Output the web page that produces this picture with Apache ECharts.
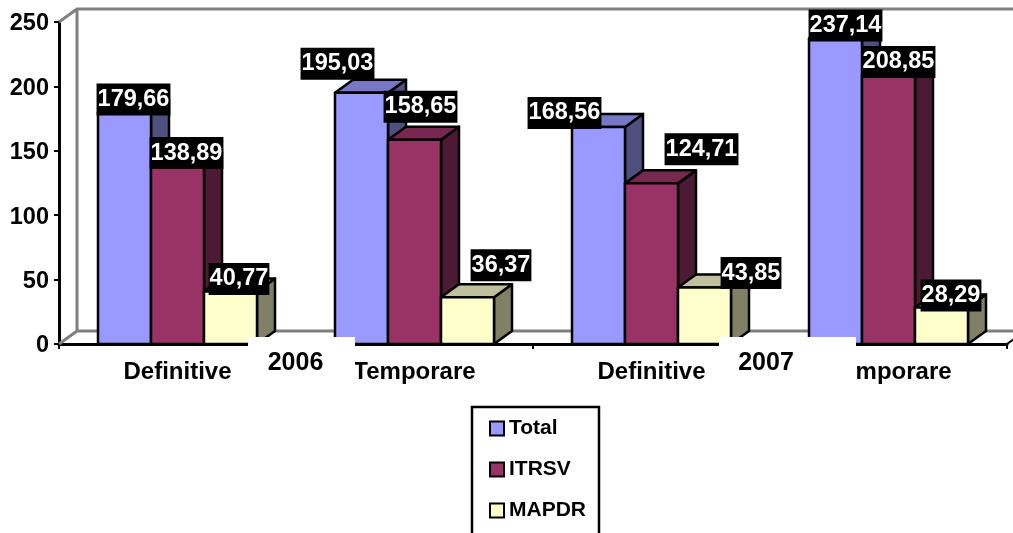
<!DOCTYPE html>
<html><head><meta charset="utf-8">
<style>html,body{margin:0;padding:0;background:#fff;overflow:hidden}#c{width:1013px;height:533px}</style>
<script src="https://cdn.jsdelivr.net/npm/echarts@6/dist/echarts.min.js"></script>
</head><body><div id="c"></div>
<script>
const categories = ['Definitive', 'Temporare', 'Definitive', 'Temporare'];
const years = ['2006', '2007'];
const total = [179.66, 195.03, 168.56, 237.14];
const itrsv = [138.89, 158.65, 124.71, 208.85];
const mapdr = [40.77, 36.37, 43.85, 28.29];
const yTicks = { min: 0, max: 250, interval: 50 };

const totalLabelShift = [[9, -13], [-24, -29], [-34, -14], [10, -13]];
const itrsvLabelShift = [[9, -12], [6, -33], [50, -34], [10, -13]];
const mapdrLabelShift = [[8.5, -12.5], [33.5, -32], [46.5, -14.5], [9.5, -12]];

const FONT = 'Liberation Sans, Arial, sans-serif';
const DX = 18, DY = -13, BAR_RATIO = 53 / 237, SW = 2.5;

function barSeries(name, values, shifts, idx, front, top, side) {
  return {
    name, type: 'custom', coordinateSystem: 'cartesian2d', clip: false,
    itemStyle: { color: front },
    data: values.map((v, i) => [i, v]),
    encode: { x: 0, y: 1 },
    renderItem(params, api) {
      const i = api.value(0), v = api.value(1);
      const base = api.coord([i, 0]), tip = api.coord([i, v]);
      const w = api.size([1, 0])[0] * BAR_RATIO;
      const cx = base[0] + (idx - 1) * w;
      const l = cx - w / 2, r = cx + w / 2, y0 = base[1], y1 = tip[1];
      const stroke = { stroke: '#000', lineWidth: SW, lineJoin: 'round' };
      const s = shifts[i];
      return { type: 'group', children: [
        { type: 'polygon', shape: { points: [[r, y1], [r + DX, y1 + DY], [r + DX, y0 + DY], [r, y0]] }, style: { fill: side, ...stroke } },
        { type: 'polygon', shape: { points: [[l, y1], [l + DX, y1 + DY], [r + DX, y1 + DY], [r, y1]] }, style: { fill: top, ...stroke } },
        { type: 'rect', shape: { x: l, y: y1, width: w, height: y0 - y1 }, style: { fill: front, ...stroke } },
        { type: 'text', z2: 100, style: {
            x: cx + s[0], y: y1 + s[1], text: v.toFixed(2).replace('.', ','),
            fill: '#fff', backgroundColor: '#000', padding: [4, 1, 4, 1],
            font: 'bold 23.5px ' + FONT, align: 'center', verticalAlign: 'middle' } }
      ] };
    }
  };
}

const wall = {
  type: 'custom', coordinateSystem: 'cartesian2d', silent: true, z: 1, clip: false,
  data: [[0, 0]], encode: { x: 0, y: 1 },
  renderItem(params, api) {
    const w = api.size([1, 0])[0];
    const b = api.coord([0, yTicks.min]), t = api.coord([0, yTicks.max]);
    const x0 = b[0] - w / 2, y0 = b[1], y1 = t[1], xEnd = x0 + w * categories.length;
    const gray = { stroke: '#808080', lineWidth: 3, fill: null };
    return { type: 'group', children: [
      { type: 'polyline', shape: { points: [[x0, y0], [x0 + DX, y0 + DY], [xEnd + DX, y0 + DY]] }, style: gray },
      { type: 'polyline', shape: { points: [[x0, y1], [x0 + DX, y1 + DY], [xEnd + DX, y1 + DY]] }, style: gray },
      { type: 'line', shape: { x1: x0 + DX, y1: y0 + DY, x2: x0 + DX, y2: y1 + DY }, style: gray },
      { type: 'line', shape: { x1: xEnd, y1: y0, x2: xEnd + DX, y2: y0 + DY }, style: { stroke: '#000', lineWidth: 2 } }
    ] };
  }
};

const chart = echarts.init(document.getElementById('c'), null, { renderer: 'canvas' });
chart.setOption({
  animation: false,
  backgroundColor: '#fff',
  grid: { left: 59, right: 6, top: 22, bottom: 189, containLabel: false },
  xAxis: {
    type: 'category',
    data: categories.map((c, i) => i === 3 ? { value: c, textStyle: { padding: [0, 0, 0, 4] } } : c),
    boundaryGap: true,
    axisLine: { lineStyle: { color: '#000', width: 3 } },
    axisTick: { show: true, length: 5, alignWithLabel: false, lineStyle: { color: '#000', width: 2 } },
    axisLabel: { interval: 0, margin: 16, color: '#000', fontFamily: FONT, fontWeight: 'bold', fontSize: 24 },
    splitLine: { show: false }
  },
  yAxis: {
    type: 'value', min: yTicks.min, max: yTicks.max, interval: yTicks.interval,
    axisLine: { show: true, lineStyle: { color: '#000', width: 3 } },
    axisTick: { show: true, length: 5, lineStyle: { color: '#000', width: 2 } },
    axisLabel: {
      margin: 10, color: '#000', formatter: '{a|{value}}',
      rich: { a: { color: '#000', fontFamily: FONT, fontWeight: 'bold', fontSize: 23.5, padding: [4, 0, 0, 0] } }
    },
    splitLine: { show: false }
  },
  legend: {
    orient: 'vertical', left: 472, top: 407, height: 400, data: ['Total', 'ITRSV', 'MAPDR'],
    backgroundColor: '#fff', borderColor: '#000', borderWidth: 2.5,
    padding: [11, 13, 60, 17], itemWidth: 14, itemHeight: 14, itemGap: 20, icon: 'rect',
    itemStyle: { borderColor: '#000', borderWidth: 2 },
    textStyle: { color: '#000', fontFamily: FONT, fontWeight: 'bold', fontSize: 21 }
  },
  series: [
    wall,
    barSeries('Total', total, totalLabelShift, 0, '#9999FF', '#7777C6', '#4F4F80'),
    barSeries('ITRSV', itrsv, itrsvLabelShift, 1, '#993366', '#772850', '#4D1A33'),
    barSeries('MAPDR', mapdr, mapdrLabelShift, 2, '#FFFFCC', '#C0C09F', '#808066')
  ],
  graphic: [
    { type: 'rect', z: 50, shape: { x: 248, y: 337, width: 107, height: 50 }, style: { fill: '#fff' } },
    { type: 'rect', z: 50, shape: { x: 719, y: 337, width: 137, height: 50 }, style: { fill: '#fff' } },
    { type: 'text', z: 51, style: { x: 295.5, y: 363, text: years[0], fill: '#000', font: 'bold 25px ' + FONT, align: 'center', verticalAlign: 'middle' } },
    { type: 'text', z: 51, style: { x: 766, y: 363, text: years[1], fill: '#000', font: 'bold 25px ' + FONT, align: 'center', verticalAlign: 'middle' } }
  ]
});
</script></body></html>
